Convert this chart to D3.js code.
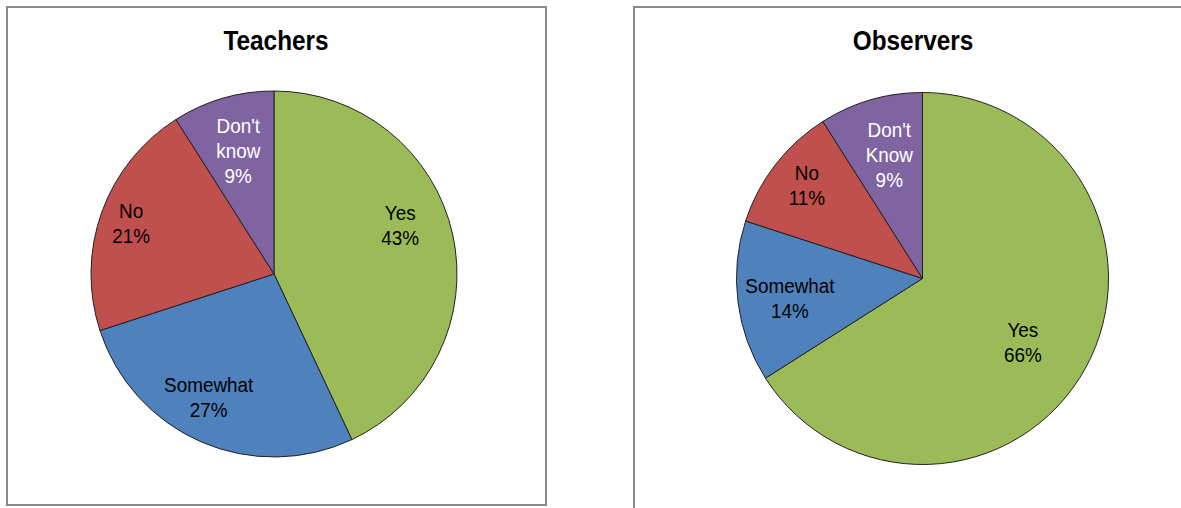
<!DOCTYPE html>
<html>
<head>
<meta charset="utf-8">
<script src="https://cdn.jsdelivr.net/npm/d3@7/dist/d3.min.js"></script>
<style>
  html, body { margin: 0; padding: 0; background: #fff; }
  svg { display: block; }
</style>
</head>
<body>
<svg id="chart" width="1181" height="508"></svg>
<script>
// ---- Data ----
const categories = ["Yes", "Somewhat", "No", "Don't know"];
const teacherLabels = ["Yes", "Somewhat", "No", "Don't\nknow"];
const observerLabels = ["Yes", "Somewhat", "No", "Don't\nKnow"];
const teacherValues = [43, 27, 21, 9];
const observerValues = [66, 14, 11, 9];
const titles = ["Teachers", "Observers"];

// ---- Style / layout ----
const colors = ["#9BBB59", "#4F81BD", "#C0504D", "#8064A2"];
const textColors = ["#000", "#000", "#000", "#fff"];
const panels = [
  { title: titles[0], values: teacherValues, labels: teacherLabels,
    box: [7, 7, 539, 498], cx: 274, cy: 274, r: 183, titleX: 276,
    labelR: [0.74, 0.76, 0.83, 0.70], labelDA: [-8.7, 4.6, 0, 0] },
  { title: titles[1], values: observerValues, labels: observerLabels,
    box: [634, 7, 700, 700], cx: 922.5, cy: 278.5, r: 186, titleX: 913,
    labelR: [0.64, 0.72, 0.80, 0.69], labelDA: [3.7, -1, 1.2, 1.2] }
];

const svg = d3.select("#chart");
const pie = d3.pie().sort(null).value(d => d).startAngle(0).endAngle(2 * Math.PI);

panels.forEach(p => {
  svg.append("rect")
    .attr("x", p.box[0]).attr("y", p.box[1])
    .attr("width", p.box[2]).attr("height", p.box[3])
    .attr("fill", "none").attr("stroke", "#8a8a8a").attr("stroke-width", 2);

  svg.append("text")
    .attr("transform", `translate(${p.titleX},50) scale(0.87,1)`)
    .attr("text-anchor", "middle")
    .attr("font-family", "'Liberation Sans', Arial, sans-serif")
    .attr("font-weight", "bold")
    .attr("font-size", 28)
    .attr("fill", "#000")
    .text(p.title);

  const g = svg.append("g").attr("transform", `translate(${p.cx},${p.cy})`);
  const arc = d3.arc().innerRadius(0).outerRadius(p.r);
  const arcs = pie(p.values);

  g.selectAll("path").data(arcs).enter().append("path")
    .attr("d", arc)
    .attr("fill", (d, i) => colors[i])
    .attr("stroke", "#222")
    .attr("stroke-width", 1);

  arcs.forEach((d, i) => {
    const a = (d.startAngle + d.endAngle) / 2 + p.labelDA[i] * Math.PI / 180;
    const rr = p.r * p.labelR[i];
    const x = rr * Math.sin(a), y = -rr * Math.cos(a);
    const lines = p.labels[i].split("\n").concat([d.data + "%"]);
    const lh = 25;
    const t = g.append("text")
      .attr("transform", `translate(${x},${y}) scale(0.9,1)`)
      .attr("text-anchor", "middle")
      .attr("font-family", "'Liberation Sans', Arial, sans-serif")
      .attr("font-size", 21)
      .attr("fill", textColors[i]);
    lines.forEach((ln, k) => {
      t.append("tspan")
        .attr("x", 0)
        .attr("y", 7.5 + (k - (lines.length - 1) / 2) * lh)
        .text(ln);
    });
  });
});
</script>
</body>
</html>
